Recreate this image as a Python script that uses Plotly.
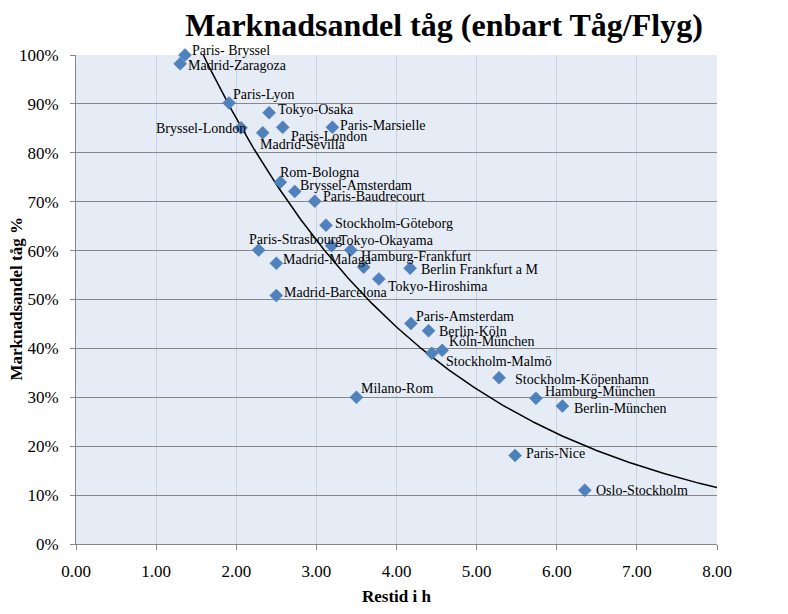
import numpy as np
import plotly.graph_objects as go

# ---- data ----
routes = [
    "Paris- Bryssel", "Madrid-Zaragoza", "Paris-Lyon", "Tokyo-Osaka", "Bryssel-London",
    "Madrid-Sevilla", "Paris-London", "Paris-Marsielle", "Rom-Bologna", "Bryssel-Amsterdam",
    "Paris-Baudrecourt", "Stockholm-Göteborg", "Paris-Strasbourg", "Tokyo-Okayama", "",
    "Madrid-Malaga", "Hamburg-Frankfurt", "Berlin Frankfurt a M", "Tokyo-Hiroshima", "Madrid-Barcelona",
    "Paris-Amsterdam", "Berlin-Köln", "Köln-München", "Stockholm-Malmö", "Stockholm-Köpenhamn",
    "Milano-Rom", "Hamburg-München", "Berlin-München", "Paris-Nice", "Oslo-Stockholm",
]
travel_hours = [
    1.36, 1.30, 1.91, 2.41, 2.06,
    2.33, 2.58, 3.20, 2.55, 2.73,
    2.98, 3.12, 2.28, 3.19, 3.43,
    2.50, 3.59, 4.17, 3.78, 2.50,
    4.18, 4.40, 4.57, 4.44, 5.28,
    3.50, 5.74, 6.07, 5.48, 6.35,
]
rail_share_pct = [
    100.0, 98.2, 90.2, 88.2, 85.1,
    84.1, 85.2, 85.2, 74.0, 72.1,
    70.1, 65.2, 60.1, 61.0, 60.1,
    57.4, 56.6, 56.4, 54.2, 50.8,
    45.1, 43.6, 39.6, 39.0, 34.0,
    30.0, 29.8, 28.2, 18.1, 11.0,
]
x_tick_vals = [0, 1, 2, 3, 4, 5, 6, 7, 8]
x_tick_text = ["0.00", "1.00", "2.00", "3.00", "4.00", "5.00", "6.00", "7.00", "8.00"]
y_tick_vals = [0, 10, 20, 30, 40, 50, 60, 70, 80, 90, 100]
y_tick_text = ["0%", "10%", "20%", "30%", "40%", "50%", "60%", "70%", "80%", "90%", "100%"]

# ---- label placement (pixel offsets from each marker; styling only) ----
# (anchor, dx, dy) ; dy positive = down on screen
label_offsets = [
    ("left", 6, -5), ("left", 7, 2), ("left", 3, -8), ("left", 8, -3), ("right", 6, 1),
    ("left", -4, 12), ("left", 7, 9), ("left", 7, -2), ("left", -1, -10), ("left", 4, -6),
    ("left", 7, -5), ("left", 8, -2), ("left", -11, -11), ("left", 6, -5), ("left", 0, 0),
    ("left", 6, -4), ("left", -4, -11), ("left", 10, 1), ("left", 8, 8), ("left", 7, -3),
    ("left", 4, -7), ("left", 9, 1), ("left", 6, -9), ("left", 13, 8), ("left", 15, 2),
    ("left", 4, -9), ("left", 8, -7), ("left", 11, 2), ("left", 10, -2), ("left", 10, 0),
]

# ---- exponential trendline fitted to the data (as Excel does) ----
xa = np.array(travel_hours)
ya = np.array(rail_share_pct)
b, ln_a = np.polyfit(xa, np.log(ya), 1)
trend_x = np.linspace(0, 8, 400)
trend_y = np.exp(ln_a) * np.exp(b * trend_x)

SERIF = "Liberation Serif"

# the page body adds an 8px margin, so the figure is 8px smaller
FIG_W, FIG_H = 780, 598
M_L, M_R, M_T, M_B = 68, 71, 47, 62

fig = go.Figure()
fig.add_trace(go.Scatter(
    x=trend_x, y=trend_y, mode="lines",
    line=dict(color="#000000", width=1.5),
    hoverinfo="skip", showlegend=False,
))
fig.add_trace(go.Scatter(
    x=travel_hours, y=rail_share_pct, mode="markers",
    marker=dict(symbol="diamond", size=10, color="#4F81BD",
                line=dict(width=0.5, color="#4A7AB5")),
    text=routes, showlegend=False, cliponaxis=False,
))

for name, xv, yv, (anchor, dx, dy) in zip(routes, travel_hours, rail_share_pct, label_offsets):
    if not name:
        continue
    fig.add_annotation(
        x=xv, y=yv, xref="x", yref="y", text=name, showarrow=False,
        xanchor=anchor, yanchor="middle", xshift=dx, yshift=-dy,
        font=dict(family=SERIF, size=14, color="#000000"),
        borderpad=0,
    )

# y-axis title placed as a rotated annotation
fig.add_annotation(
    x=(8 - M_L) / (FIG_W - M_L - M_R), y=0.5, xref="paper", yref="paper",
    text="<b>Marknadsandel tåg %</b>", textangle=-90, showarrow=False,
    xanchor="center", yanchor="middle",
    font=dict(family=SERIF, size=17, color="#000000"),
)

fig.update_layout(
    width=FIG_W, height=FIG_H,
    paper_bgcolor="#FFFFFF", plot_bgcolor="#E6ECF6",
    margin=dict(l=M_L, r=M_R, t=M_T, b=M_B, autoexpand=False),
    title=dict(
        text="<b>Marknadsandel tåg (enbart Tåg/Flyg)</b>",
        x=436 / FIG_W, xanchor="center", xref="container",
        y=1 - 17 / FIG_H, yanchor="middle", yref="container",
        font=dict(family=SERIF, size=32, color="#000000"),
    ),
    font=dict(family=SERIF, color="#000000"),
)

fig.update_xaxes(
    range=[0, 8], tickmode="array", tickvals=x_tick_vals, ticktext=x_tick_text,
    showgrid=True, gridcolor="#C9D2DE", gridwidth=1,
    showline=True, linecolor="#878787", linewidth=1,
    ticks="outside", ticklen=5, tickcolor="#878787",
    tickfont=dict(family=SERIF, size=17, color="#000000"),
    ticklabelstandoff=7, automargin=False,
    zeroline=False,
    title=dict(text="<b>Restid i h</b>", standoff=28,
               font=dict(family=SERIF, size=17, color="#000000")),
)
fig.update_yaxes(
    range=[0, 100], tickmode="array", tickvals=y_tick_vals, ticktext=y_tick_text,
    showgrid=True, gridcolor="#878787", gridwidth=1,
    showline=True, linecolor="#878787", linewidth=1,
    ticks="outside", ticklen=5, tickcolor="#878787",
    tickfont=dict(family=SERIF, size=17, color="#000000"),
    ticklabelstandoff=8, automargin=False,
    zeroline=False,
)

fig.write_html("out.html")
